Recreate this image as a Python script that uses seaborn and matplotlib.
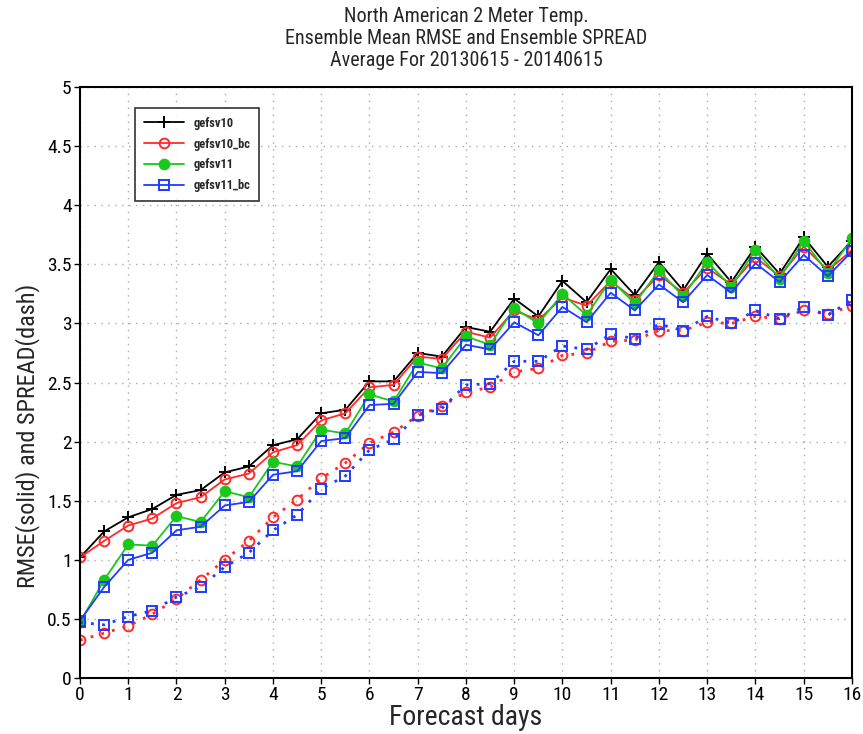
import matplotlib
matplotlib.use("Agg")
import matplotlib.pyplot as plt
from matplotlib import font_manager
import seaborn as sns
import numpy as np

days = np.arange(0, 16.5, 0.5)

gefsv10 = [1.02, 1.24, 1.36, 1.43, 1.55, 1.59, 1.74, 1.79, 1.97, 2.02, 2.24,
           2.27, 2.51, 2.51, 2.75, 2.72, 2.97, 2.93, 3.21, 3.06, 3.36, 3.18,
           3.46, 3.24, 3.52, 3.28, 3.59, 3.35, 3.65, 3.42, 3.73, 3.48, 3.70]
gefsv10_bc = [1.02, 1.16, 1.29, 1.35, 1.48, 1.53, 1.68, 1.73, 1.91, 1.97, 2.18,
              2.24, 2.46, 2.48, 2.72, 2.70, 2.93, 2.88, 3.11, 3.03, 3.22, 3.15,
              3.36, 3.20, 3.41, 3.26, 3.47, 3.33, 3.56, 3.40, 3.65, 3.45, 3.62]
gefsv11 = [0.47, 0.83, 1.13, 1.12, 1.37, 1.32, 1.58, 1.53, 1.83, 1.79, 2.10,
           2.07, 2.40, 2.34, 2.67, 2.62, 2.89, 2.82, 3.13, 3.00, 3.25, 3.07,
           3.37, 3.17, 3.45, 3.23, 3.52, 3.31, 3.62, 3.38, 3.70, 3.43, 3.72]
gefsv11_bc = [0.485, 0.77, 1.00, 1.06, 1.25, 1.28, 1.46, 1.49, 1.72, 1.75, 2.005,
              2.03, 2.31, 2.32, 2.59, 2.58, 2.82, 2.78, 3.01, 2.90, 3.14, 3.01,
              3.26, 3.11, 3.33, 3.18, 3.41, 3.26, 3.51, 3.35, 3.58, 3.40, 3.61]

# ensemble spread (dotted)
spread_v10 = [0.32, 0.38, 0.44, 0.54, 0.67, 0.83, 1.00, 1.16, 1.36, 1.51, 1.69,
              1.82, 1.99, 2.08, 2.22, 2.30, 2.42, 2.46, 2.59, 2.62, 2.73, 2.75,
              2.85, 2.86, 2.94, 2.94, 3.01, 3.00, 3.06, 3.04, 3.11, 3.08, 3.15]
spread_v11 = [0.47, 0.45, 0.52, 0.57, 0.685, 0.77, 0.94, 1.06, 1.25, 1.38, 1.60,
              1.71, 1.93, 2.02, 2.225, 2.28, 2.48, 2.49, 2.68, 2.68, 2.81, 2.78,
              2.91, 2.87, 2.995, 2.94, 3.06, 3.00, 3.11, 3.04, 3.14, 3.07, 3.20]

sns.set_theme(style="white")
names = {f.name for f in font_manager.fontManager.ttflist}
narrow = [n for n in ['Liberation Sans Narrow', 'Roboto Condensed', 'DejaVu Sans'] if n in names]
plt.rcParams['font.family'] = narrow + ['DejaVu Sans']
plt.rcParams['font.stretch'] = 'condensed'

fig = plt.figure(figsize=(8.63, 7.34), dpi=100)
ax = fig.add_axes([0.0927, 0.0763, 0.8945, 0.805])

solid = [
    (gefsv10, 'gefsv10', '#000000', '+', '#000000', 9),
    (gefsv10_bc, 'gefsv10_bc', '#ff2a2a', 'o', 'none', 7),
    (gefsv11, 'gefsv11', '#19c819', 'o', '#19c819', 7),
    (gefsv11_bc, 'gefsv11_bc', '#1f3cff', 's', 'none', 7),
]
handles = []
for vals, name, col, mk, fc, ms in solid:
    sns.lineplot(x=days, y=vals, ax=ax, color=col, marker=mk, markersize=ms,
                 markerfacecolor=fc, markeredgecolor=col, markeredgewidth=1.4,
                 linewidth=1.3, label=name, legend=False)
    handles.append(ax.lines[-1])

for vals, col, mk in [(spread_v10, '#ff2a2a', 'o'), (spread_v11, '#1f3cff', 's')]:
    sns.lineplot(x=days, y=vals, ax=ax, color=col, marker=mk, markersize=7,
                 markerfacecolor='none', markeredgecolor=col, markeredgewidth=1.4,
                 linewidth=2, linestyle=(0, (1, 3)), legend=False)

ax.set_xlim(0, 16)
ax.set_ylim(0, 5)
ax.set_xticks(range(0, 17))
yt = np.arange(0, 5.01, 0.5)
ax.set_yticks(yt)
ax.set_yticklabels([f"{v:g}" for v in yt])
ax.tick_params(labelsize=14, direction='out', length=4, width=1, colors='black',
               bottom=True, left=True, pad=2)
ax.grid(True, color='#aaaaaa', linestyle=(0, (1, 4)), linewidth=1)
for s in ax.spines.values():
    s.set_color('black')
    s.set_linewidth(1.5)

ax.set_xlabel('Forecast days', fontsize=20, labelpad=0)
ax.set_ylabel('RMSE(solid) and SPREAD(dash)', fontsize=17.5)
ax.yaxis.set_label_coords(-0.052, 0.41)
ax.set_title('North American 2 Meter Temp.\nEnsemble Mean RMSE and Ensemble SPREAD\n'
             'Average For 20130615 - 20140615', fontsize=14.5, linespacing=1.2, pad=15)

leg = ax.legend(handles=handles, loc='upper left', bbox_to_anchor=(0.0712, 0.9645),
                borderaxespad=0, frameon=True, fancybox=False, edgecolor='black',
                handlelength=3.2, borderpad=0.7, labelspacing=0.62,
                prop={'weight': 'bold', 'size': 9})
leg.get_frame().set_linewidth(1.2)

fig.savefig('out.png', dpi=100)
